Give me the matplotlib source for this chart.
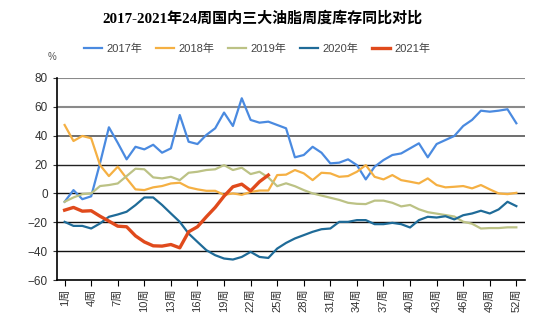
import matplotlib
matplotlib.use('Agg')
from matplotlib import pyplot as plt

plt.rcParams['font.family'] = ['Liberation Sans', 'Noto Sans CJK SC', 'DejaVu Sans']

# weekly year-on-year change of the stocks, %
weeks = list(range(1, 53))
y2017 = [-5.8, 2.3, -4, -2, 21, 45.8, 35, 23.6, 32.3, 30.5, 33.7, 28.2, 31.2, 54.3, 35.8, 34.2,
         40.5, 45.1, 56, 46.7, 65.9, 50.9, 49, 49.7, 47.4, 45.1, 25, 26.6, 32.3, 28.2, 20.8, 21.3,
         23.6, 19.6, 9.7, 18.5, 23.1, 26.6, 27.7, 31.2, 34.7, 25, 34.2, 37, 39.8, 46.7, 50.9, 57.3,
         56.6, 57.3, 58.3, 48.6]
y2018 = [47.4, 36.3, 39.8, 38.2, 19.6, 12, 18.5, 10.4, 2.8, 2.3, 4.2, 5.1, 6.9, 7.4, 4.2, 2.8,
         1.8, 1.8, -1, 0, -1, 1, 2, 2, 12.7, 13, 16.2, 13.9, 9.2, 14.3, 13.9, 11.5, 12, 15, 19.6,
         11.5, 9.7, 12.7, 9.2, 8.1, 6.9, 10.4, 5.8, 4.2, 4.6, 5.1, 3.5, 5.8, 2.8, 0, -0.5, 0.4]
y2019 = [-5.8, -2.8, -0.5, 0, 5.1, 5.8, 6.9, 12, 17.1, 16.7, 11.1, 10.4, 11.5, 9.2, 14.3, 15,
         16.2, 16.7, 19.6, 16.2, 17.8, 13.4, 15, 11, 5, 7, 5, 2.3, 0, -1.5, -3, -4.5, -6.5, -7.2,
         -7.4, -5, -5, -6.5, -9, -8, -11, -13, -14, -15, -16, -19.6, -21, -24.3, -24, -24, -23.5,
         -23.5]
y2020 = [-19.7, -22.5, -22.5, -24.3, -20.8, -16.2, -14.6, -12.7, -8.1, -2.8, -2.8, -8, -13.9,
         -19.7, -27.8, -33.6, -39.3, -42.8, -45.1, -45.8, -44, -40.5, -44, -44.7, -38.2, -34.3,
         -31.2, -28.9, -26.6, -24.8, -24.3, -19.7, -19.7, -18.5, -18.5, -21.3, -21.3, -20.4,
         -21.3, -23.6, -18.5, -16.2, -16.7, -15.8, -18, -15.1, -13.9, -12, -13.9, -11.1, -5.8,
         -8.8]
y2021 = [-11.6, -9.7, -12.3, -12, -15.8, -19.2, -22.7, -23.1, -29.4, -33.6, -36.3, -36.5, -35.4,
         -37.7, -26.6, -23.1, -16.2, -9.7, -1.9, 4.6, 6.4, 1.8, 8.1, 12.7]

series = [
    ('2017年', y2017, '#4a8ae0', 1.6),
    ('2018年', y2018, '#f5b043', 1.6),
    ('2019年', y2019, '#bcc285', 1.6),
    ('2020年', y2020, '#1f6b98', 1.6),
    ('2021年', y2021, '#e04a1c', 2.4),
]

fig = plt.figure(figsize=(5.42, 3.26), dpi=100)
ax = fig.add_axes([0.105, 0.141, 0.864, 0.62])

for yv, col, lw in [(80, '#8a8a8a', 1.5), (60, '#8a8a8a', 1.5), (40, '#555555', 1.2),
                    (20, '#222222', 1), (0, '#111111', 1), (-20, '#111111', 1), (-40, '#111111', 1)]:
    ax.axhline(yv, color=col, lw=lw, zorder=1)

for name, vals, col, lw in series:
    ax.plot(weeks[:len(vals)], vals, color=col, lw=lw, label=name, zorder=3)

ax.set_xlim(0.13, 53.0)
ax.set_ylim(-60, 80)
ax.set_yticks(range(-60, 81, 20))
xt = list(range(1, 53, 3))
ax.set_xticks(xt)
ax.set_xticklabels(['%d周' % w for w in xt], rotation=90, fontsize=8, color='#333333')
ax.tick_params(axis='y', labelsize=8.5, colors='#333333', length=3, width=0.8)
ax.tick_params(axis='x', length=4, width=0.8, pad=2)
for s in ['top', 'right']:
    ax.spines[s].set_visible(False)
ax.spines['left'].set_linewidth(1.2)
ax.spines['bottom'].set_linewidth(1.2)

fig.text(0.484, 0.945, '2017-2021年24周国内三大油脂周度库存同比对比', ha='center', va='center',
         fontsize=10.8, fontweight='bold', family=['Liberation Serif', 'Noto Sans CJK SC'])
fig.text(0.096, 0.815, '%', fontsize=7, color='#555555', ha='center')
fig.legend(loc='center', bbox_to_anchor=(0.475, 0.85), ncol=5, frameon=False, fontsize=8,
           handlelength=1.6, columnspacing=1.2, handletextpad=0.45, labelcolor='#444444')

fig.savefig('out.png', dpi=100)
